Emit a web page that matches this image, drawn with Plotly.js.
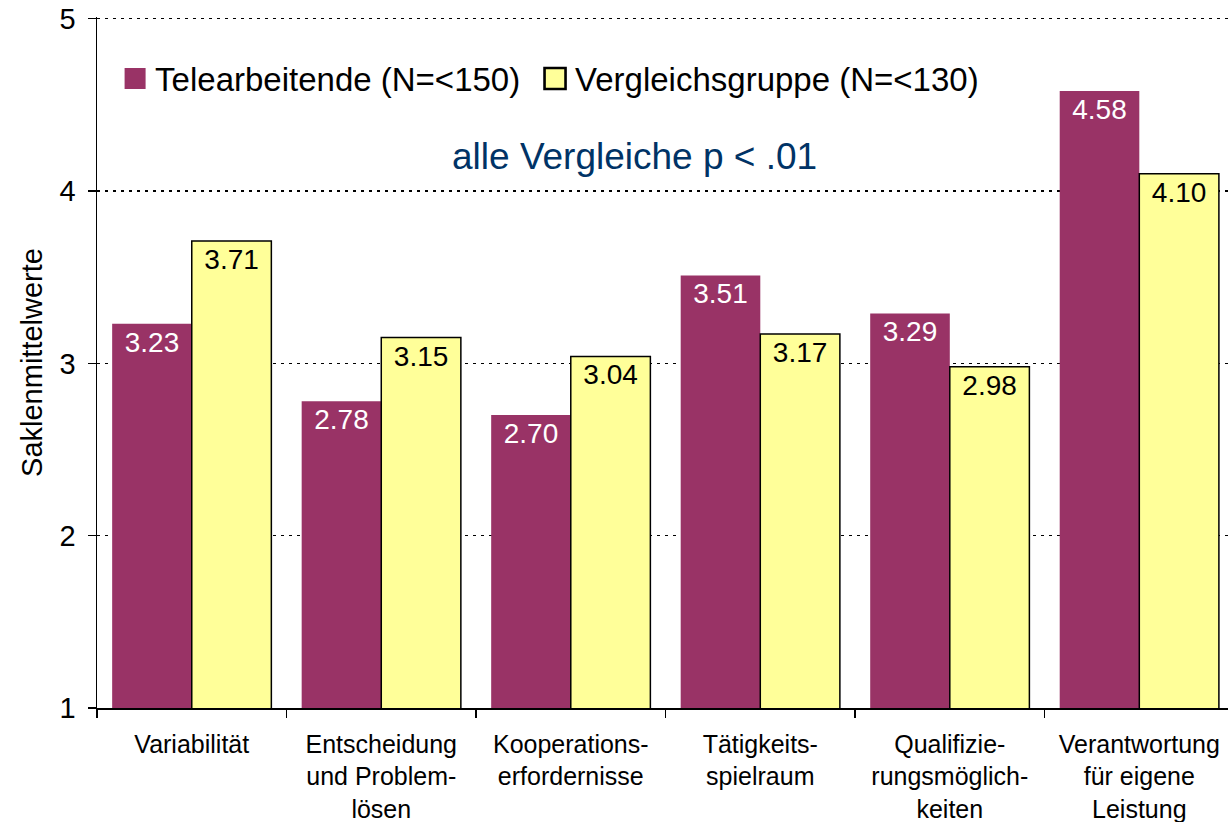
<!DOCTYPE html>
<html>
<head>
<meta charset="utf-8">
<script src="https://cdn.plot.ly/plotly-3.0.1.min.js"></script>
<style>
  html, body { margin: 0; padding: 0; background: #ffffff; overflow: hidden; }
  #chart { width: 1228px; height: 822px; }
</style>
</head>
<body>
<div id="chart"></div>
<script>
const categories = [
  "Variabilität",
  "Entscheidung<br>und Problem-<br>lösen",
  "Kooperations-<br>erfordernisse",
  "Tätigkeits-<br>spielraum",
  "Qualifizie-<br>rungsmöglich-<br>keiten",
  "Verantwortung<br>für eigene<br>Leistung"
];
const teleValues = [3.23, 2.78, 2.70, 3.51, 3.29, 4.58];
const vergleichValues = [3.71, 3.15, 3.04, 3.17, 2.98, 4.10];
const seriesNames = ["Telearbeitende (N=<150)", "Vergleichsgruppe (N=<130)"];
const yTicks = [1, 2, 3, 4, 5];
const noteText = "alle Vergleiche p < .01";
const yTitle = "Saklenmittelwerte";

const FONT = "'Liberation Sans', Arial, sans-serif";

const traces = [
  {
    type: "bar",
    name: seriesNames[0],
    legend: "legend",
    x: categories,
    y: teleValues,
    marker: { color: "#993366", line: { width: 0 } },
    texttemplate: "%{y:.2f}",
    textposition: "inside",
    insidetextanchor: "end",
    textangle: 0,
    constraintext: "none",
    textfont: { family: FONT, size: 28, color: "#ffffff" },
    hoverinfo: "skip"
  },
  {
    type: "bar",
    name: seriesNames[1],
    legend: "legend2",
    x: categories,
    y: vergleichValues,
    marker: { color: "#FFFF99", line: { width: 1.5, color: "#000000" } },
    texttemplate: "%{y:.2f}",
    textposition: "inside",
    insidetextanchor: "end",
    textangle: 0,
    constraintext: "none",
    textfont: { family: FONT, size: 28, color: "#000000" },
    hoverinfo: "skip"
  }
];

const legendBase = {
  orientation: "h",
  xanchor: "left",
  y: 0.911,
  yanchor: "middle",
  font: { family: FONT, size: 33, color: "#000000" },
  bgcolor: "rgba(0,0,0,0)"
};

const layout = {
  width: 1228,
  height: 822,
  margin: { l: 97, r: 0, t: 17, b: 114, pad: 0 },
  paper_bgcolor: "#ffffff",
  plot_bgcolor: "#ffffff",
  font: { family: FONT, color: "#000000" },
  barmode: "group",
  bargap: 0.16,
  bargroupgap: 0,
  showlegend: true,
  legend: Object.assign({}, legendBase, { x: 0.016 }),
  legend2: Object.assign({}, legendBase, { x: 0.3873 }),
  xaxis: {
    type: "category",
    range: [-0.5, 5.468],
    showline: true,
    linecolor: "#000000",
    linewidth: 1.5,
    ticks: "outside",
    tickson: "boundaries",
    ticklen: 8,
    tickwidth: 1.5,
    tickcolor: "#000000",
    ticklabelstandoff: 13,
    showgrid: false,
    tickfont: { family: FONT, size: 25, color: "#000000" },
    automargin: false
  },
  yaxis: {
    range: [1, 5.01],
    tickvals: yTicks,
    ticktext: yTicks.map(String),
    showline: true,
    linecolor: "#000000",
    linewidth: 1.5,
    ticks: "outside",
    ticklen: 8,
    tickwidth: 1.5,
    tickcolor: "#000000",
    ticklabelstandoff: 6,
    showgrid: true,
    gridcolor: "#000000",
    gridwidth: 1.2,
    griddash: "3px,5px",
    zeroline: false,
    tickfont: { family: FONT, size: 29, color: "#000000" },
    title: { text: yTitle, font: { family: FONT, size: 29, color: "#000000" }, standoff: 8 },
    automargin: false
  },
  annotations: [
    {
      xref: "paper", yref: "paper",
      x: 0.475, y: 0.798,
      xanchor: "center", yanchor: "middle",
      text: noteText,
      showarrow: false,
      font: { family: FONT, size: 37, color: "#003366" }
    }
  ]
};

Plotly.newPlot("chart", traces, layout, { staticPlot: true, displayModeBar: false }).then(function () {
  document.querySelectorAll("#chart .legendpoints path").forEach(function (p) {
    const t = p.getAttribute("transform") || "";
    p.setAttribute("transform", t + " scale(1.75)");
  });
});
</script>
</body>
</html>
